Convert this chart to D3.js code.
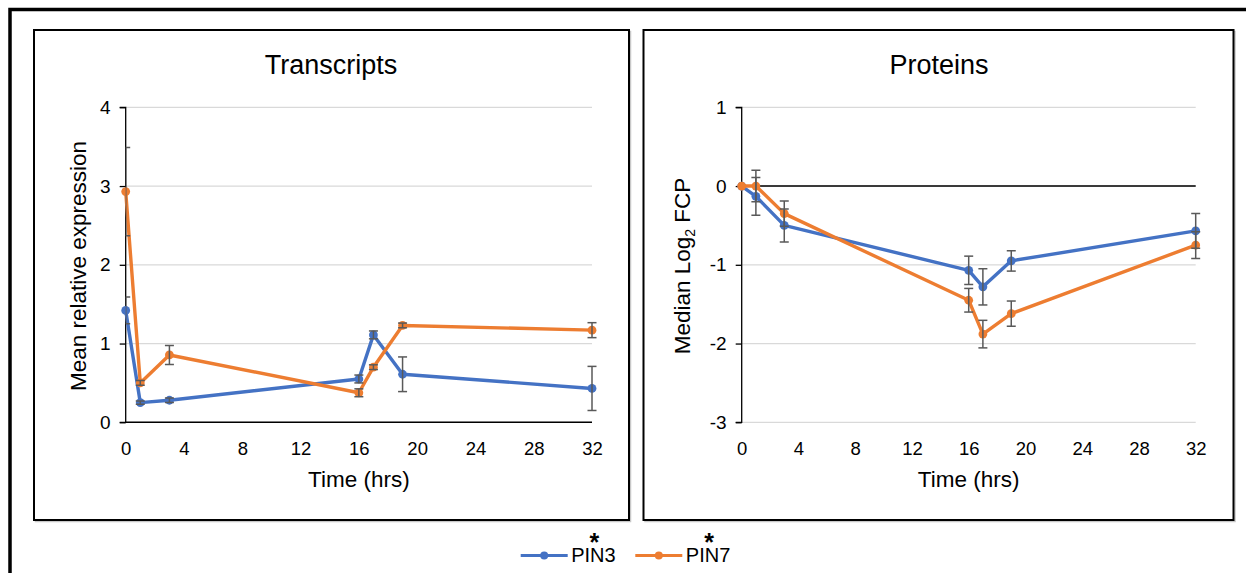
<!DOCTYPE html>
<html><head><meta charset="utf-8">
<script src="https://cdn.jsdelivr.net/npm/d3@7"></script>
<style>
html,body{margin:0;padding:0;background:#fff;}
svg{display:block;font-family:"Liberation Sans",Arial,sans-serif;}
</style></head>
<body>
<svg id="chart" width="1246" height="573"></svg>
<script>
const times = [0, 1, 3, 16, 17, 19, 32];
const xTicks = [0, 4, 8, 12, 16, 20, 24, 28, 32];
const seriesNames = ["PIN3", "PIN7"];
const seriesColors = ["#4472C4", "#ED7D31"];

const transPIN3 = [1.42, 0.25, 0.28, 0.55, 1.11, 0.61, 0.43];
const transPIN3Err = [0.17, 0.02, 0.03, 0.05, 0.05, 0.22, 0.28];
const transPIN7 = [2.93, 0.50, 0.855, 0.375, 0.70, 1.23, 1.17];
const transPIN7Err = [0.56, 0.03, 0.12, 0.05, 0.03, 0.03, 0.095];
const transYTicks = [0, 1, 2, 3, 4];

const protPIN3 = [0, -0.13, -0.50, -1.07, -1.28, -0.95, -0.57];
const protPIN3Err = [0, 0.24, 0.21, 0.18, 0.23, 0.13, 0.22];
const protPIN7 = [0, 0.0, -0.35, -1.45, -1.88, -1.62, -0.75];
const protPIN7Err = [0, 0.20, 0.16, 0.15, 0.175, 0.16, 0.17];
const protYTicks = [-3, -2, -1, 0, 1];

const svg = d3.select("#chart");

svg.append("rect").attr("x", 10).attr("y", 9.5).attr("width", 1250).attr("height", 580)
  .attr("fill", "none").attr("stroke", "#000").attr("stroke-width", 3.5);

function panel(cfg) {
  const g = svg.append("g");
  g.append("rect").attr("x", cfg.box[0] + 1.5).attr("y", cfg.box[1] + 1.5)
    .attr("width", cfg.box[2]).attr("height", cfg.box[3])
    .attr("fill", "none").attr("stroke", "#c8c8c8").attr("stroke-width", 1.5);
  g.append("rect").attr("x", cfg.box[0]).attr("y", cfg.box[1])
    .attr("width", cfg.box[2]).attr("height", cfg.box[3])
    .attr("fill", "#fff").attr("stroke", "#000").attr("stroke-width", 2);

  const x = d3.scaleLinear().domain([0, 32]).range(cfg.xr);
  const y = d3.scaleLinear().domain(cfg.yd).range([422.3, 107.3]);

  g.append("g").selectAll("line").data(cfg.yTicks).join("line")
    .attr("x1", cfg.xr[0]).attr("x2", cfg.xr[1])
    .attr("y1", d => y(d)).attr("y2", d => y(d))
    .attr("stroke", "#d9d9d9").attr("stroke-width", 1.3);

  const yAxis = d3.axisLeft(y).tickValues(cfg.yTicks).tickSize(6).tickPadding(9)
    .tickFormat(d => String(d));
  const ya = g.append("g").attr("transform", `translate(${cfg.xr[0]},0)`).call(yAxis);
  ya.select(".domain").attr("stroke", "#000").attr("stroke-width", 1.3)
    .attr("d", `M-6,${y(cfg.yd[1])}H0V${y(cfg.yd[0])}H-6`);
  ya.selectAll(".tick line").attr("stroke", "#000").attr("stroke-width", 1.3);
  ya.selectAll(".tick text").attr("font-size", 19).attr("fill", "#000")
    .attr("font-family", "Liberation Sans, Arial, sans-serif");

  g.append("line").attr("x1", cfg.xr[0]).attr("x2", cfg.xr[1])
    .attr("y1", y(0)).attr("y2", y(0)).attr("stroke", "#000").attr("stroke-width", 1.6);

  const xAxis = d3.axisBottom(x).tickValues(xTicks).tickSize(0).tickPadding(0);
  const xa = g.append("g").attr("transform", "translate(0,441.5)").call(xAxis);
  xa.select(".domain").remove();
  xa.selectAll(".tick text").attr("font-size", 18.5).attr("fill", "#000")
    .attr("dy", "0.71em")
    .attr("font-family", "Liberation Sans, Arial, sans-serif");

  g.append("text").attr("x", cfg.titleX).attr("y", 74).attr("text-anchor", "middle")
    .attr("font-size", 27).text(cfg.title);
  g.append("text").attr("x", (cfg.xr[0] + cfg.xr[1]) / 2).attr("y", 487)
    .attr("text-anchor", "middle").attr("font-size", 22.5).text("Time (hrs)");
  const yt = g.append("text").attr("transform", `translate(${cfg.yTitleX},266) rotate(-90)`)
    .attr("text-anchor", "middle").attr("font-size", 22.5);
  cfg.yTitle(yt);

  const clipId = "clip" + cfg.id;
  svg.append("clipPath").attr("id", clipId).append("rect")
    .attr("x", cfg.xr[0]).attr("y", 100).attr("width", cfg.xr[1] - cfg.xr[0] + 10).attr("height", 330);

  cfg.series.forEach((s, si) => {
    const pts = times.map((t, i) => ({t, v: s.vals[i], e: s.err[i]}));
    const line = d3.line().x(d => x(d.t)).y(d => y(d.v));
    g.append("path").datum(pts).attr("d", line).attr("fill", "none")
      .attr("stroke", seriesColors[si]).attr("stroke-width", 3.4).attr("stroke-linejoin", "round");
    g.append("g").selectAll("circle").data(pts).join("circle")
      .attr("cx", d => x(d.t)).attr("cy", d => y(d.v)).attr("r", 4.4)
      .attr("fill", seriesColors[si]);
  });
  cfg.series.forEach((s, si) => {
    const pts = times.map((t, i) => ({t, v: s.vals[i], e: s.err[i]})).filter(d => d.e > 0);
    const eg = g.append("g").attr("clip-path", `url(#${clipId})`)
      .attr("stroke", "#595959").attr("stroke-width", 1.5);
    pts.forEach(d => {
      const cx = x(d.t), y1 = y(d.v + d.e), y2 = y(d.v - d.e);
      eg.append("line").attr("x1", cx).attr("x2", cx).attr("y1", y1).attr("y2", y2);
      eg.append("line").attr("x1", cx - 4.5).attr("x2", cx + 4.5).attr("y1", y1).attr("y2", y1);
      eg.append("line").attr("x1", cx - 4.5).attr("x2", cx + 4.5).attr("y1", y2).attr("y2", y2);
    });
  });
}

panel({
  id: "L", box: [34, 30, 595, 490], xr: [125.7, 592], yd: [0, 4], yTicks: transYTicks,
  title: "Transcripts", titleX: 331, yTitleX: 86,
  yTitle: t => t.text("Mean relative expression"),
  series: [{vals: transPIN3, err: transPIN3Err}, {vals: transPIN7, err: transPIN7Err}]
});
panel({
  id: "R", box: [643.5, 30, 590, 490], xr: [741.7, 1195.7], yd: [-3, 1], yTicks: protYTicks,
  title: "Proteins", titleX: 939, yTitleX: 690,
  yTitle: t => {
    t.append("tspan").text("Median Log");
    t.append("tspan").attr("font-size", 14).attr("dy", 5).text("2");
    t.append("tspan").attr("dy", -5).text(" FCP");
  },
  series: [{vals: protPIN3, err: protPIN3Err}, {vals: protPIN7, err: protPIN7Err}]
});

const legX = [520.7, 635.3];
seriesNames.forEach((name, i) => {
  const lg = svg.append("g").attr("transform", `translate(${legX[i]},0)`);
  lg.append("line").attr("x1", 0).attr("x2", 47).attr("y1", 555.5).attr("y2", 555.5)
    .attr("stroke", seriesColors[i]).attr("stroke-width", 3.2);
  lg.append("circle").attr("cx", 23.5).attr("cy", 555.5).attr("r", 4).attr("fill", seriesColors[i]);
  const t = lg.append("text").attr("x", 50.5).attr("y", 562).attr("font-size", 20);
  t.append("tspan").text(name);
  t.append("tspan").attr("x", 68.9).attr("y", 551).attr("font-size", 25)
    .attr("font-weight", "bold").text("*");
});
</script>
</body></html>
